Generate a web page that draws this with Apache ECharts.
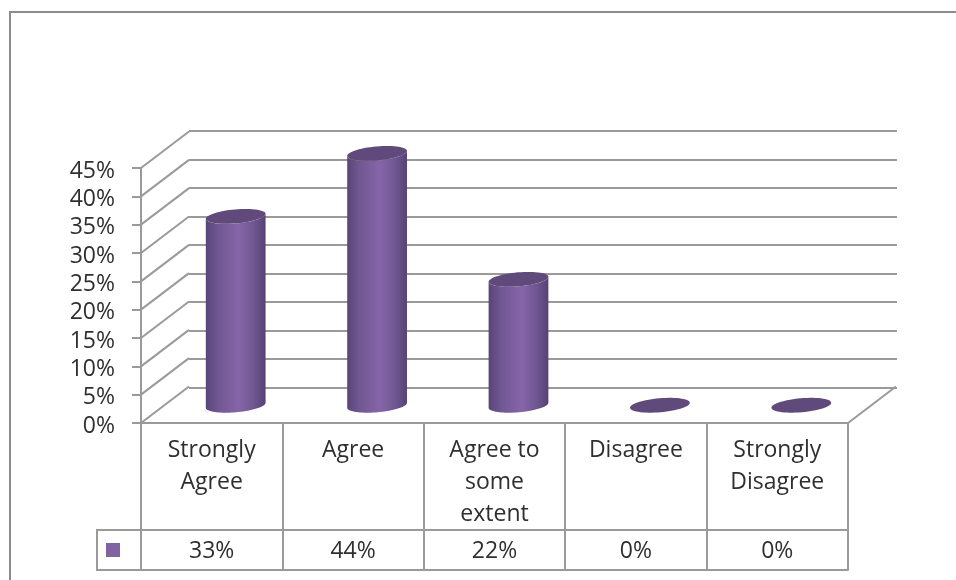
<!DOCTYPE html>
<html><head><meta charset="utf-8">
<style>html,body{margin:0;padding:0;background:#fff}#c{width:956px;height:580px}</style>
<script src="https://cdn.jsdelivr.net/npm/echarts@6/dist/echarts.min.js"></script>
</head><body><div id="c"></div>
<script>
const categories = ['Strongly\nAgree', 'Agree', 'Agree to\nsome\nextent', 'Disagree', 'Strongly\nDisagree'];
const values = [33.33, 44.44, 22.22, 0, 0];
const tableLabels = ['33%', '44%', '22%', '0%', '0%'];
const tickValues = [0, 5, 10, 15, 20, 25, 30, 35, 40, 45];

const LINE = '#9a9a9a', TEXT = '#2f2f2f', FONT = '"Open Sans", sans-serif', FS = 23;
const DX = 48, DY = -36.5;   // depth of the 3D box
const lineStyle = { color: LINE, width: 2 };
const strokeStyle = { stroke: LINE, lineWidth: 2 };

function ellipse(cx, cy, rx, ry, a0, a1, n) {
  const t = -5 * Math.PI / 180, pts = [];
  for (let i = 0; i <= n; i++) {
    const a = a0 + (a1 - a0) * i / n;
    const x = rx * Math.cos(a), y = ry * Math.sin(a);
    pts.push([cx + x * Math.cos(t) - y * Math.sin(t), cy + x * Math.sin(t) + y * Math.cos(t)]);
  }
  return pts;
}
const bodyFill = new echarts.graphic.LinearGradient(0, 0, 1, 0, [
  { offset: 0, color: '#594477' }, { offset: 0.2, color: '#6f5792' },
  { offset: 0.55, color: '#8665a8' }, { offset: 0.8, color: '#6f5792' }, { offset: 1, color: '#564273' }
]);

function renderCylinder(params, api) {
  const base = api.coord([api.value(0), 0]);
  const top = api.coord([api.value(0), api.value(1)]);
  const cx = base[0] + DX / 2, by = base[1] + DY / 2 + 0.5, ty = top[1] + DY / 2 + 0.5;
  const rx = 30, ry = 7;
  const children = [];
  if (by - ty > 0.5) {
    const body = ellipse(cx, ty, rx, ry, Math.PI, 0, 40).concat(ellipse(cx, by, rx, ry, 0, Math.PI, 40));
    children.push({ type: 'polygon', shape: { points: body }, style: { fill: bodyFill } });
  }
  children.push({ type: 'polygon', shape: { points: ellipse(cx, ty, rx, ry, 0, Math.PI * 2, 60) }, style: { fill: '#604a7b' } });
  return { type: 'group', children };
}

function renderDiagonal(params, api) {
  const y = api.coord([0, api.value(0)])[1];
  const g = params.coordSys;
  const shapes = [{ type: 'line', shape: { x1: g.x, y1: y, x2: g.x + DX, y2: y + DY }, style: strokeStyle }];
  if (api.value(0) === 0) {
    shapes.push({ type: 'line', shape: { x1: g.x + g.width, y1: y, x2: g.x + g.width + DX, y2: y + DY }, style: strokeStyle });
  }
  return { type: 'group', children: shapes };
}

const chart = echarts.init(document.getElementById('c'), null, { renderer: 'canvas' });
chart.setOption({
  animation: false,
  backgroundColor: '#fff',
  grid: [
    { left: 141, top: 168, width: 707, height: 255 },
    { left: 189, top: 131, width: 708, height: 256.5 }
  ],
  xAxis: [
    { type: 'category', gridIndex: 0, data: categories, position: 'bottom',
      axisLine: { lineStyle }, axisTick: { show: true, length: 147, lineStyle },
      axisLabel: { interval: 0, color: TEXT, fontFamily: FONT, fontSize: FS, lineHeight: 32, margin: 11 } },
    { type: 'category', gridIndex: 0, data: tableLabels, position: 'bottom', offset: 107,
      axisLine: { onZero: false, lineStyle }, axisTick: { show: false },
      axisLabel: { interval: 0, color: TEXT, fontFamily: FONT, fontSize: FS, margin: 10 } },
    { type: 'category', gridIndex: 0, data: tableLabels, position: 'bottom', offset: 147,
      axisLine: { onZero: false, lineStyle }, axisTick: { show: false }, axisLabel: { show: false } },
    { type: 'category', gridIndex: 1, data: categories, show: false }
  ],
  yAxis: [
    { type: 'value', gridIndex: 0, min: 0, max: 45, interval: 5,
      axisLine: { show: true, lineStyle }, axisTick: { show: true, length: 9, lineStyle },
      splitLine: { show: false },
      axisLabel: { formatter: '{value}%', color: TEXT, fontFamily: FONT, fontSize: FS, margin: 26, verticalAlign: 'top', lineHeight: 6 } },
    { type: 'value', gridIndex: 1, min: 0, max: 45, interval: 5,
      axisLine: { show: false }, axisTick: { show: false }, axisLabel: { show: false },
      splitLine: { show: true, lineStyle } }
  ],
  series: [
    { type: 'custom', xAxisIndex: 0, yAxisIndex: 0, silent: true, clip: false, z: 1,
      data: tickValues.map(v => [v]), renderItem: renderDiagonal },
    { type: 'custom', xAxisIndex: 0, yAxisIndex: 0, silent: true, clip: false, z: 3,
      data: values.map((v, i) => [i, v]), encode: { x: 0, y: 1 }, renderItem: renderCylinder }
  ],
  graphic: [
    { type: 'polyline', shape: { points: [[956, 12], [10, 12], [10, 580]] }, style: { stroke: '#8c8c8c', lineWidth: 2, fill: null } },
    { type: 'polyline', shape: { points: [[141, 530], [97, 530], [97, 570], [141, 570]] }, style: { stroke: LINE, lineWidth: 2, fill: null } },
    { type: 'rect', shape: { x: 106, y: 543, width: 14, height: 14 }, style: { fill: '#8064a2' } }
  ]
});
</script></body></html>
